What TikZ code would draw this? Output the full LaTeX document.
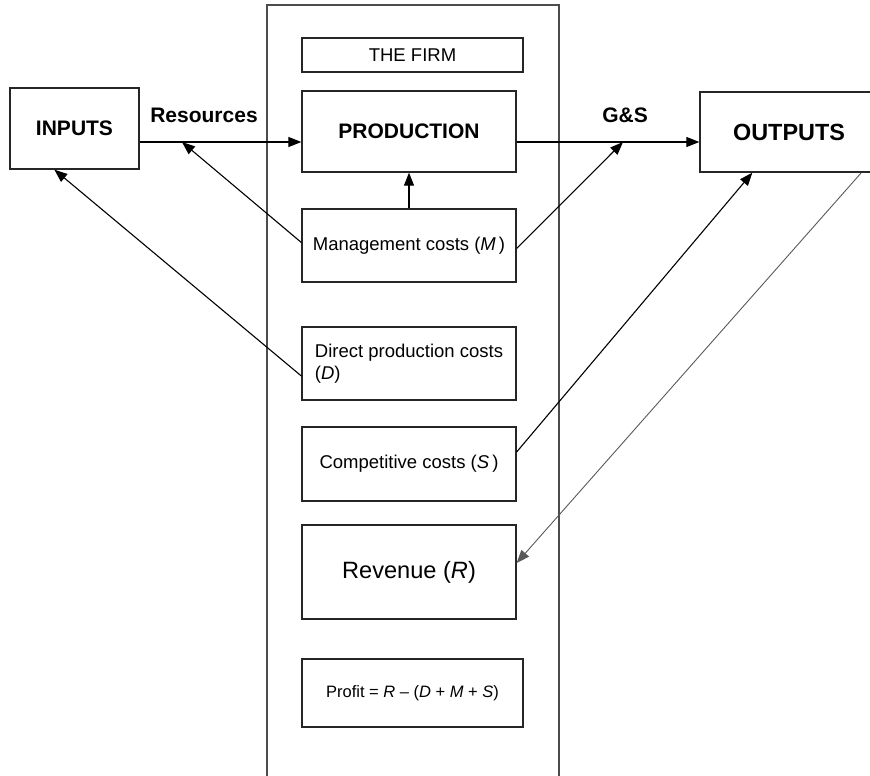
\documentclass[tikz,border=0pt]{standalone}
\usepackage{fontspec}
\setmainfont{Liberation Sans}
\usetikzlibrary{arrows.meta}

\begin{document}
\begin{tikzpicture}[x=1pt,y=-1pt,
    box/.style={draw=black!85,line width=1.3pt,inner sep=0pt,align=center},
    arr/.style={-{Triangle[length=13pt,width=10pt]},line width=1.1pt},
    big/.style={font=\fontsize{21}{25}\selectfont\bfseries},
    txt/.style={font=\fontsize{18.5}{22}\selectfont}]
        \clip (0,0) rectangle (870,776);
        % the firm
        \draw[black!70,line width=1.2pt] (267,800) -- (267,5) -- (559,5) -- (559,800);

        \node[box,txt,minimum width=221pt,minimum height=34pt] (firm) at (412.5,55) {THE FIRM};
        \node[box,big,minimum width=214pt,minimum height=81pt] (production) at (409,131.5) {PRODUCTION};
        \node[box,txt,minimum width=214pt,minimum height=73pt] (mgmt) at (409,245.5) {Management costs (\textit{M}\,)};
        \node[box,txt,align=left,minimum width=214pt,minimum height=73pt] (direct) at (409,363.5) {Direct production costs\\(\textit{D})};
        \node[box,txt,minimum width=214pt,minimum height=74pt] (comp) at (409,464) {Competitive costs (\textit{S}\,)};
        \node[box,minimum width=214pt,minimum height=94pt,font=\fontsize{23.6}{28}\selectfont] (revenue) at (409,572) {Revenue (\textit{R})};
        \node[box,minimum width=221pt,minimum height=68pt,font=\fontsize{16.5}{20}\selectfont] (profit) at (412.5,693) {Profit = \textit{R} -- (\textit{D} + \textit{M} + \textit{S})};

        % outside
        \node[box,big,minimum width=129pt,minimum height=81pt] (inputs) at (74.5,128.5) {INPUTS};
        \node[box,minimum width=178pt,minimum height=80pt,font=\fontsize{23.4}{28}\selectfont\bfseries] (outputs) at (789,132) {OUTPUTS};
        \node[big] (res) at (204,115) {Resources};
        \node[big] (gs) at (625,115) {G\&S};

        \coordinate (flow) at (0,142);
        \coordinate (restip) at (182,142);
        \coordinate (gstip) at (623,142);

        \draw[arr] (inputs.east |- flow) -- (production.west |- flow);
        \draw[arr] (production.east |- flow) -- (outputs.west |- flow);
        \draw[arr] (mgmt.north) -- (production.south);
        \draw[arr] ([yshift=3pt]mgmt.west) -- (restip);
        \draw[arr] ([yshift=-3pt]mgmt.east) -- (gstip);
        \draw[arr] ([yshift=-12.5pt]direct.west) -- ([xshift=45pt]inputs.south west);
        \draw[arr] ([yshift=12pt]comp.east) -- ([xshift=53pt]outputs.south west);
        \draw[arr,black!65,line width=0.9pt] ([xshift=162pt]outputs.south west) -- ([yshift=9pt]revenue.east);
\end{tikzpicture}
\end{document}
